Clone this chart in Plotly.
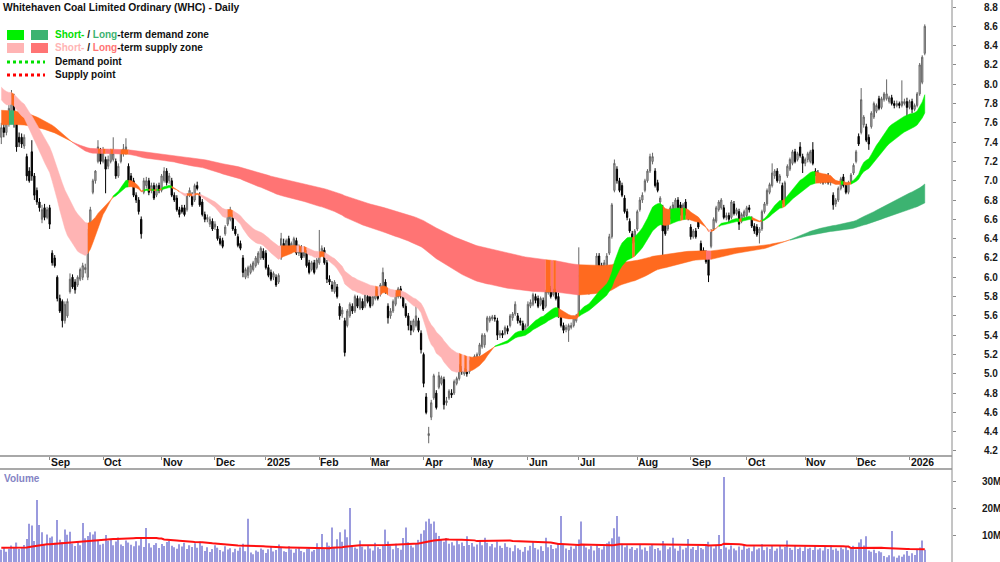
import plotly.graph_objects as go

# ---------------- data ----------------
open_prices = [
7.45,7.55,7.50,7.60,7.72,7.85,7.60,7.45,7.45,7.36,
7.25,7.10,7.30,7.05,6.90,6.78,6.60,6.72,6.62,6.72,
6.25,6.20,6.00,5.78,5.75,5.55,5.60,5.85,6.00,5.95,
5.92,5.98,6.00,6.08,6.00,6.50,6.88,7.00,7.20,7.30,
7.20,7.22,7.15,7.20,7.22,7.20,7.05,7.20,7.28,7.30,
7.15,7.05,7.00,6.85,6.80,6.60,6.88,6.95,7.00,6.90,
6.95,6.85,6.95,6.90,7.00,7.10,7.00,7.00,6.85,6.82,
6.70,6.72,6.72,6.70,6.85,6.85,6.80,6.95,6.85,6.78,
6.65,6.60,6.55,6.58,6.52,6.50,6.40,6.38,6.45,6.55,
6.60,6.62,6.50,6.42,6.35,6.20,6.00,6.02,6.05,6.08,
6.12,6.15,6.20,6.27,6.25,6.10,6.05,6.00,6.00,5.95,
6.20,6.35,6.30,6.40,6.28,6.30,6.38,6.25,6.30,6.22,
6.25,6.15,6.08,6.15,6.10,6.15,6.25,6.28,6.15,5.98,
5.92,5.85,5.90,5.70,5.62,5.55,5.50,5.60,5.70,5.65,
5.78,5.68,5.75,5.70,5.80,5.80,5.72,5.78,5.85,5.82,
5.90,5.95,5.70,5.60,5.65,5.72,5.80,5.88,5.80,5.70,
5.60,5.50,5.45,5.50,5.55,5.42,5.20,4.76,4.36,4.55,
4.75,4.80,4.86,4.90,4.94,4.70,4.75,4.80,4.80,4.90,
4.95,5.05,5.00,5.02,5.02,5.10,5.08,5.15,5.20,5.28,
5.30,5.45,5.55,5.57,5.58,5.55,5.40,5.42,5.42,5.47,
5.50,5.58,5.62,5.60,5.55,5.52,5.45,5.50,5.70,5.72,
5.80,5.78,5.72,5.76,5.70,5.84,5.88,5.82,5.85,5.80,
5.60,5.50,5.46,5.45,5.48,5.50,5.55,5.62,6.02,5.92,
5.95,5.85,5.90,6.02,6.10,6.22,6.12,6.08,6.12,6.25,
6.42,6.90,7.12,7.00,6.95,6.82,6.68,6.58,6.45,6.38,
6.50,6.70,6.80,6.90,7.00,7.10,7.20,7.10,6.98,6.78,
6.72,6.60,6.50,6.62,6.70,6.70,6.80,6.75,6.66,6.78,
6.66,6.52,6.42,6.48,6.58,6.35,6.28,6.25,6.20,6.32,
6.50,6.58,6.70,6.72,6.72,6.62,6.64,6.62,6.76,6.66,
6.68,6.58,6.63,6.64,6.72,6.60,6.53,6.52,6.46,6.50,
6.68,6.76,6.88,6.95,7.05,7.10,7.00,6.95,6.80,7.05,
7.12,7.18,7.30,7.22,7.35,7.25,7.18,7.22,7.20,7.32,
7.10,7.08,7.00,7.02,7.00,7.05,6.98,6.85,6.76,6.80,
6.92,7.04,6.95,6.88,6.99,7.08,7.20,7.46,7.50,7.58,
7.56,7.45,7.56,7.66,7.72,7.85,7.76,7.84,7.85,7.82,
7.86,7.80,7.78,7.80,7.78,7.80,7.82,7.76,7.82,7.74,
7.78,7.90,8.02,8.32]

high_prices = [
7.60,7.65,7.68,7.80,7.94,7.90,7.64,7.50,7.49,7.48,
7.28,7.14,7.42,7.08,6.93,6.82,6.75,6.76,6.73,6.75,
6.28,6.23,6.02,5.82,5.77,5.75,5.78,6.04,6.03,5.98,
6.02,6.10,6.15,6.14,6.50,6.73,7.02,7.11,7.42,7.34,
7.35,7.25,7.26,7.33,7.45,7.23,7.18,7.32,7.38,7.44,
7.18,7.08,7.03,6.88,6.83,6.63,7.03,7.04,7.03,6.98,
6.98,6.97,6.98,7.07,7.14,7.13,7.08,7.03,6.88,6.85,
6.73,6.75,6.75,6.87,6.93,6.88,6.97,6.99,6.88,6.81,
6.68,6.65,6.63,6.61,6.58,6.53,6.43,6.41,6.54,6.70,
6.73,6.65,6.53,6.45,6.38,6.23,6.10,6.12,6.14,6.17,
6.22,6.27,6.32,6.30,6.28,6.13,6.08,6.06,6.03,6.04,
6.46,6.40,6.40,6.43,6.37,6.42,6.41,6.34,6.33,6.32,
6.28,6.18,6.17,6.18,6.20,6.49,6.33,6.31,6.18,6.02,
5.96,5.97,5.93,5.73,5.69,5.58,5.67,5.74,5.73,5.82,
5.81,5.80,5.78,5.84,5.83,5.83,5.82,5.87,5.88,5.94,
6.10,5.98,5.73,5.68,5.77,5.84,5.90,5.91,5.83,5.73,
5.63,5.55,5.57,5.71,5.58,5.45,5.22,4.80,4.45,4.73,
5.00,4.83,5.02,4.98,4.97,4.76,4.84,4.84,4.94,4.97,
5.10,5.08,5.06,5.05,5.14,5.13,5.20,5.22,5.32,5.42,
5.42,5.60,5.60,5.61,5.61,5.58,5.45,5.45,5.50,5.50,
5.62,5.64,5.75,5.63,5.58,5.55,5.52,5.75,5.77,5.84,
5.83,5.81,5.80,5.79,5.87,5.94,5.91,5.88,5.88,5.84,
5.63,5.53,5.51,5.52,5.53,5.60,5.62,6.31,6.05,5.98,
5.97,5.90,6.07,6.10,6.25,6.25,6.15,6.18,6.25,6.45,
6.77,7.22,7.15,7.03,6.98,6.85,6.71,6.61,6.48,6.50,
6.70,6.83,6.88,7.02,7.12,7.28,7.29,7.13,7.01,6.84,
6.75,6.63,6.64,6.74,6.78,6.82,6.83,6.78,6.77,6.81,
6.69,6.55,6.50,6.51,6.61,6.38,6.31,6.28,6.23,6.50,
6.62,6.74,6.80,6.82,6.75,6.67,6.67,6.80,6.79,6.72,
6.71,6.67,6.70,6.74,6.75,6.63,6.56,6.55,6.52,6.70,
6.78,6.92,6.98,7.18,7.12,7.13,7.07,6.98,7.00,7.17,
7.24,7.32,7.33,7.30,7.40,7.28,7.24,7.30,7.32,7.40,
7.13,7.11,7.07,7.05,7.06,7.08,7.03,6.88,6.82,6.94,
7.04,7.07,6.98,7.00,7.08,7.18,7.32,7.49,7.96,7.68,
7.59,7.48,7.72,7.82,7.80,7.88,7.87,7.92,8.05,7.88,
7.89,7.83,7.83,7.82,8.04,7.85,7.86,7.84,7.85,7.80,
7.92,8.22,8.30,8.62]

low_prices = [
7.38,7.45,7.47,7.56,7.68,7.55,7.30,7.35,7.34,7.33,
7.00,6.98,7.00,6.80,6.75,6.68,6.56,6.59,6.60,6.50,
6.12,6.10,5.75,5.63,5.48,5.52,5.58,5.83,5.88,5.83,
5.90,5.96,5.97,6.04,5.97,6.48,6.86,6.97,7.18,7.17,
7.18,6.87,7.12,7.18,7.20,7.02,7.03,7.18,7.25,7.27,
6.98,6.95,6.83,6.77,6.65,6.40,6.86,6.92,6.85,6.87,
6.80,6.83,6.87,6.88,6.98,6.95,6.97,6.83,6.78,6.68,
6.62,6.66,6.63,6.68,6.83,6.73,6.78,6.90,6.73,6.63,
6.57,6.57,6.52,6.48,6.49,6.38,6.33,6.30,6.43,6.53,
6.58,6.48,6.43,6.31,6.28,6.00,5.98,5.99,6.03,6.06,
6.10,6.13,6.18,6.18,6.08,6.00,5.96,5.97,5.90,5.93,
6.18,6.28,6.27,6.26,6.25,6.28,6.23,6.22,6.18,6.20,
6.10,6.03,6.06,6.03,6.08,6.13,6.22,6.13,5.94,5.92,
5.85,5.83,5.78,5.56,5.58,5.18,5.48,5.58,5.62,5.63,
5.68,5.66,5.66,5.68,5.73,5.68,5.70,5.76,5.76,5.80,
5.88,5.83,5.52,5.57,5.63,5.70,5.78,5.78,5.68,5.58,
5.45,5.40,5.43,5.48,5.43,5.21,4.86,4.58,4.28,4.52,
4.73,4.63,4.84,4.88,4.63,4.67,4.73,4.75,4.78,4.88,
4.93,4.99,4.98,4.97,5.00,5.05,5.06,5.13,5.18,5.26,
5.27,5.43,5.53,5.55,5.54,5.35,5.37,5.37,5.40,5.41,
5.48,5.55,5.60,5.52,5.50,5.42,5.43,5.48,5.68,5.70,
5.73,5.68,5.70,5.65,5.68,5.82,5.78,5.80,5.76,5.58,
5.48,5.42,5.43,5.33,5.46,5.48,5.53,5.60,5.90,5.89,
5.83,5.82,5.88,6.00,6.08,6.10,6.04,6.06,6.10,6.23,
6.40,6.88,6.97,6.88,6.83,6.66,6.59,6.46,6.35,6.36,
6.48,6.68,6.77,6.88,6.98,7.08,7.17,6.93,6.88,6.76,
6.18,6.43,6.48,6.60,6.68,6.68,6.70,6.64,6.64,6.64,
6.59,6.39,6.40,6.40,6.50,6.25,6.22,6.14,5.95,6.30,
6.48,6.56,6.68,6.70,6.60,6.59,6.57,6.60,6.64,6.64,
6.49,6.56,6.61,6.62,6.67,6.51,6.45,6.42,6.35,6.48,
6.66,6.74,6.86,6.93,7.02,6.98,6.97,6.76,6.78,7.03,
7.10,7.16,7.18,7.20,7.24,7.08,7.15,7.19,7.18,7.16,
7.05,6.98,6.97,6.96,6.97,6.96,6.95,6.70,6.73,6.78,
6.90,6.93,6.86,6.86,6.97,7.06,7.18,7.36,7.48,7.55,
7.40,7.32,7.54,7.64,7.70,7.73,7.74,7.82,7.83,7.80,
7.78,7.75,7.76,7.75,7.76,7.78,7.56,7.74,7.70,7.72,
7.76,7.88,8.00,8.30]

close_prices = [
7.55,7.50,7.60,7.75,7.88,7.60,7.35,7.40,7.38,7.45,
7.05,7.00,7.05,6.85,6.78,6.72,6.70,6.62,6.70,6.55,
6.15,6.12,5.78,5.65,5.55,5.72,5.75,5.98,5.90,5.87,
6.00,6.08,6.12,6.10,6.45,6.70,7.00,7.10,7.35,7.20,
7.30,7.12,7.22,7.30,7.28,7.05,7.15,7.30,7.33,7.35,
7.00,6.98,6.85,6.80,6.68,6.45,7.00,7.00,6.88,6.95,
6.82,6.95,6.90,7.05,7.10,6.98,7.05,6.85,6.80,6.70,
6.65,6.68,6.65,6.85,6.90,6.75,6.95,6.92,6.75,6.65,
6.60,6.62,6.60,6.50,6.55,6.40,6.35,6.32,6.52,6.68,
6.70,6.50,6.45,6.33,6.30,6.05,6.08,6.10,6.12,6.15,
6.20,6.25,6.30,6.20,6.10,6.02,5.98,6.04,5.92,6.02,
6.40,6.30,6.38,6.28,6.35,6.40,6.25,6.32,6.20,6.30,
6.12,6.05,6.15,6.05,6.18,6.22,6.30,6.15,5.98,5.95,
5.88,5.95,5.80,5.60,5.66,5.22,5.65,5.72,5.65,5.80,
5.70,5.78,5.68,5.82,5.75,5.70,5.80,5.85,5.78,5.92,
6.05,5.85,5.58,5.65,5.75,5.82,5.88,5.80,5.70,5.60,
5.50,5.45,5.55,5.60,5.45,5.25,4.90,4.60,4.38,4.70,
4.98,4.65,4.98,4.96,4.68,4.72,4.82,4.78,4.92,4.95,
5.08,5.02,5.04,5.00,5.12,5.08,5.18,5.20,5.30,5.40,
5.40,5.58,5.58,5.59,5.57,5.40,5.42,5.40,5.48,5.44,
5.60,5.62,5.72,5.55,5.53,5.45,5.50,5.72,5.74,5.82,
5.76,5.70,5.78,5.67,5.85,5.88,5.80,5.85,5.78,5.60,
5.50,5.45,5.48,5.50,5.50,5.58,5.60,6.02,5.92,5.95,
5.85,5.88,6.05,6.08,6.22,6.12,6.08,6.15,6.22,6.42,
6.75,7.18,7.00,6.90,6.85,6.68,6.62,6.48,6.38,6.48,
6.68,6.80,6.85,7.00,7.10,7.25,7.25,6.95,6.90,6.82,
6.48,6.45,6.62,6.72,6.75,6.80,6.72,6.66,6.75,6.66,
6.62,6.42,6.48,6.42,6.52,6.27,6.25,6.16,6.02,6.48,
6.60,6.72,6.78,6.80,6.62,6.64,6.60,6.78,6.66,6.70,
6.55,6.65,6.68,6.72,6.70,6.53,6.48,6.44,6.50,6.68,
6.76,6.90,6.96,7.08,7.10,7.00,7.05,6.78,6.98,7.15,
7.22,7.30,7.20,7.28,7.26,7.18,7.22,7.28,7.30,7.18,
7.08,7.00,7.05,6.98,7.04,6.98,7.00,6.75,6.80,6.92,
7.02,6.95,6.88,6.98,7.06,7.16,7.30,7.38,7.84,7.66,
7.42,7.38,7.70,7.80,7.78,7.75,7.85,7.90,7.90,7.86,
7.80,7.78,7.80,7.78,7.82,7.82,7.76,7.82,7.74,7.78,
7.90,8.20,8.28,8.60]

volume_m = [
4.5,5.2,3.8,4.9,6.1,5.5,7.2,4.8,5.6,6.3,
8.5,14.2,13.5,7.8,23.0,13.7,11.0,6.5,10.2,9.0,
9.4,7.1,15.6,8.2,7.4,12.0,10.1,11.2,6.8,5.9,
7.5,6.2,14.4,8.8,9.6,11.0,10.2,11.3,7.9,6.4,
6.8,10.0,7.9,8.3,6.2,7.6,9.1,6.5,5.9,8.0,
7.2,6.4,5.8,7.7,6.1,8.6,5.6,12.6,6.9,5.4,
6.3,7.0,5.2,6.7,5.9,7.4,7.8,6.0,5.5,4.9,
6.6,5.7,7.1,4.8,6.2,5.6,6.9,5.3,7.6,6.0,
4.1,5.5,3.7,4.8,6.2,5.3,4.4,3.9,5.8,4.6,
5.1,3.6,4.9,4.2,5.4,6.8,4.0,16.0,3.5,2.9,
4.3,3.8,5.0,4.5,3.3,4.7,5.6,3.9,4.4,6.5,
5.2,4.0,3.7,5.8,4.6,3.4,4.9,5.5,4.1,3.6,
4.8,5.3,3.9,4.4,6.9,5.1,10.4,4.7,7.2,6.0,
12.8,5.6,8.4,11.0,7.5,12.0,9.2,20.0,6.3,5.4,
4.9,8.0,5.7,4.6,6.2,5.0,4.3,7.1,5.5,4.8,
6.4,12.0,7.6,5.9,4.7,6.8,5.2,4.5,8.9,12.8,
7.3,6.1,5.4,6.9,8.2,10.5,11.8,15.0,16.0,14.2,
15.0,10.8,9.6,8.4,7.5,8.9,6.8,7.3,6.1,8.0,
6.6,7.2,5.9,9.5,6.3,7.0,5.7,6.5,7.8,6.2,
9.0,7.1,5.8,6.7,5.4,7.6,6.0,5.2,6.9,5.6,
5.3,4.0,6.2,5.1,4.5,3.8,5.6,4.3,6.0,7.4,
5.2,4.6,5.8,4.1,9.0,5.5,6.3,4.8,5.1,6.7,
17.0,6.4,5.0,4.4,5.7,4.9,6.1,8.3,15.0,6.2,
5.4,4.7,5.9,4.3,6.5,5.2,4.6,5.8,6.9,7.6,
8.8,12.5,17.0,9.4,6.8,5.5,6.2,4.9,5.6,4.4,
5.1,6.3,4.6,5.4,4.1,5.8,6.6,4.8,5.2,4.3,
7.8,6.2,4.7,5.5,9.0,5.0,4.2,5.9,4.6,5.3,
8.5,4.9,5.6,4.4,6.0,5.2,4.7,6.4,7.5,5.8,
5.0,6.3,10.0,4.8,31.5,5.4,4.6,6.1,5.0,4.3,
5.7,4.5,6.2,4.9,5.3,4.0,5.8,4.6,5.1,6.6,
4.4,5.5,4.8,5.9,4.2,5.0,6.3,4.7,5.6,8.0,
5.2,4.5,6.0,4.8,5.4,4.1,5.7,4.9,5.3,4.4,
5.9,4.6,5.1,4.3,5.6,4.8,6.2,4.5,5.0,4.2,
5.4,4.7,5.8,4.4,5.1,6.0,4.6,7.2,8.4,6.1,
9.5,4.3,3.8,4.5,3.3,4.0,3.6,2.2,1.8,2.5,
11.5,2.0,1.6,2.4,1.9,2.8,4.1,2.3,3.2,2.6,
4.8,5.4,8.0,4.5]

month_labels = ["Sep", "Oct", "Nov", "Dec", "2025", "Feb", "Mar", "Apr", "May",
                "Jun", "Jul", "Aug", "Sep", "Oct", "Nov", "Dec", "2026"]
month_index = [20, 41, 64, 85, 105, 126, 146, 167, 186, 208, 228, 251, 272, 294,
               317, 337, 358]

price_ticks = [4.2, 4.4, 4.6, 4.8, 5.0, 5.2, 5.4, 5.6, 5.8, 6.0, 6.2, 6.4,
               6.6, 6.8, 7.0, 7.2, 7.4, 7.6, 7.8, 8.0, 8.2, 8.4, 8.6, 8.8]
volume_ticks = [10, 20, 30]
volume_tick_text = ["10M", "20M", "30M"]

# zone settings (EMA periods) and the zone levels at the first bar
short_fast_period, short_slow_period = 20, 35
long_fast_period, long_slow_period = 150, 250
short_fast_start, short_slow_start = 7.84, 7.97
long_fast_start, long_slow_start = 7.73, 7.58
volume_avg_period = 50
volume_avg_start = 5.3

# ---------------- helpers ----------------
W, H = 1000, 562
PLOT_R = 952
FONT = "Liberation Sans, Arial, sans-serif"

def px(x):
    return x / PLOT_R

def py(y):
    return 1 - y / H

def ema(values, period, start):
    a = 2.0 / (period + 1)
    out = [start]
    for v in values[1:]:
        out.append(out[-1] + a * (v - out[-1]))
    return out

def seeded_sma(values, period, start):
    out = []
    for i in range(len(values)):
        lo = max(0, i - period + 1)
        window = values[lo:i + 1]
        missing = period - len(window)
        out.append((sum(window) + missing * start) / period)
    return out

n = len(close_prices)
xs = list(range(n))

def zone_traces(fast, slow, colors):
    states = []
    for i in range(n):
        rising = fast[i] > fast[i - 1] if i > 0 else fast[1] > fast[0]
        if fast[i] >= slow[i] and rising:
            states.append("demand")
        elif fast[i] < slow[i] and not rising:
            states.append("supply")
        else:
            states.append("mixed")
    runs = []
    s = 0
    for i in range(1, n + 1):
        if i == n or states[i] != states[s]:
            runs.append((states[s], s, i - 1))
            s = i
    traces = []
    for st, a, b in runs:
        e = min(b + 1, n - 1)
        idx = list(range(a, e + 1))
        if len(idx) < 2 and a > 0:
            idx = [a - 1] + idx
        tx = idx + idx[::-1]
        ty = [fast[i] for i in idx] + [slow[i] for i in idx[::-1]]
        traces.append(go.Scatter(x=tx, y=ty, fill="toself", mode="lines",
                                 fillcolor=colors[st],
                                 line=dict(width=0.5, color=colors[st]),
                                 hoverinfo="skip", showlegend=False,
                                 xaxis="x", yaxis="y"))
    return traces

short_fast = ema(close_prices, short_fast_period, short_fast_start)
short_slow = ema(close_prices, short_slow_period, short_slow_start)
long_fast = ema(close_prices, long_fast_period, long_fast_start)
long_slow = ema(close_prices, long_slow_period, long_slow_start)
vol_avg = seeded_sma(volume_m, volume_avg_period, volume_avg_start)

ORANGE = "#ff6a1f"
short_colors = {"demand": "#00f000", "supply": "#ffb4b4", "mixed": ORANGE}
long_colors = {"demand": "#3cb371", "supply": "#ff7474", "mixed": ORANGE}

fig = go.Figure()
for t in zone_traces(long_fast, long_slow, long_colors):
    fig.add_trace(t)
for t in zone_traces(short_fast, short_slow, short_colors):
    fig.add_trace(t)

fig.add_trace(go.Candlestick(
    x=xs, open=open_prices, high=high_prices, low=low_prices, close=close_prices,
    increasing=dict(line=dict(color="#666666", width=1), fillcolor="#c4c4c4"),
    decreasing=dict(line=dict(color="#000000", width=1), fillcolor="#000000"),
    whiskerwidth=0, showlegend=False, hoverinfo="skip", xaxis="x", yaxis="y"))

fig.add_trace(go.Bar(x=xs, y=volume_m, width=0.45,
                     marker=dict(color="#9a9ade", line=dict(width=0)),
                     showlegend=False, hoverinfo="skip", xaxis="x2", yaxis="y2"))
fig.add_trace(go.Scatter(x=xs, y=vol_avg, mode="lines",
                         line=dict(color="#ff1010", width=2),
                         showlegend=False, hoverinfo="skip", xaxis="x2", yaxis="y2"))

x_range = [-0.51, -0.51 + PLOT_R / 2.544]
tick_pos = [m - 1 for m in month_index]

axis_font = dict(family=FONT, size=10, color="#1a1a1a", weight="bold")
fig.update_layout(
    width=W, height=H, margin=dict(l=0, r=W - PLOT_R, t=0, b=0, autoexpand=False),
    paper_bgcolor="white", plot_bgcolor="white", showlegend=False,
    font=dict(family=FONT),
    xaxis=dict(domain=[0, 1], range=x_range, anchor="y", showgrid=False,
               zeroline=False, showline=True, linecolor="#a8a8a8", linewidth=2,
               tickvals=tick_pos, showticklabels=False, ticks="outside", ticklen=3,
               tickcolor="#8a8a8a", tickwidth=1, rangeslider=dict(visible=False),
               fixedrange=True, automargin=False),
    yaxis=dict(domain=[py(455), 1], range=[8.8 - 448 / 96.52, 8.8 + 7 / 96.52],
               side="right", anchor="x", showgrid=False, zeroline=False,
               tickvals=price_ticks, ticktext=["%.1f" % v for v in price_ticks],
               ticks="outside", ticklen=3, tickcolor="#8a8a8a", automargin=False,
               showline=False, tickfont=axis_font, ticklabelstandoff=26),
    xaxis2=dict(domain=[0, 1], range=x_range, anchor="y2", visible=False),
    yaxis2=dict(domain=[0, py(469)], range=[0, 93 / 2.7], side="right", anchor="x2",
                showgrid=False, zeroline=False, tickvals=volume_ticks,
                ticktext=volume_tick_text, ticks="outside", ticklen=3,
                tickcolor="#8a8a8a", showline=False, tickfont=axis_font,
                automargin=False, ticklabelstandoff=24),
)

shapes = []
# right axis line and pane separator
shapes.append(dict(type="line", xref="paper", yref="paper", x0=1, x1=1, y0=0, y1=1,
                   line=dict(color="#8a8a8a", width=1)))
shapes.append(dict(type="line", xref="paper", yref="paper", x0=0, x1=1,
                   y0=py(469), y1=py(469), line=dict(color="#8c8c8c", width=1.5)))
# legend swatches
for (x0, x1, y0, y1, c) in [(7, 24, 30, 40, "#00f000"), (31, 48, 30, 40, "#3cb371"),
                            (7, 24, 43, 53, "#ffb4b4"), (31, 48, 43, 53, "#ff7474")]:
    shapes.append(dict(type="rect", xref="paper", yref="paper", x0=px(x0), x1=px(x1),
                       y0=py(y1), y1=py(y0), fillcolor=c, line=dict(width=0)))
shapes.append(dict(type="line", xref="paper", yref="paper", x0=px(7), x1=px(45),
                   y0=py(62), y1=py(62), line=dict(color="#00e000", width=3, dash="dot")))
shapes.append(dict(type="line", xref="paper", yref="paper", x0=px(7), x1=px(45),
                   y0=py(75), y1=py(75), line=dict(color="#ff0000", width=3, dash="dot")))
fig.update_layout(shapes=shapes)

ann = []
def text(x, y, s, size=10, color="#111111", anchor="left"):
    ann.append(dict(xref="paper", yref="paper", x=px(x), y=py(y), text=s,
                    showarrow=False, xanchor=anchor, yanchor="middle",
                    font=dict(family=FONT, size=size, color=color)))

text(1, 7, "<b>Whitehaven Coal Limited Ordinary (WHC) - Daily</b>", size=10.3)
text(53, 35, "<b><span style='color:#00e000'>Short-</span> / "
             "<span style='color:#3cb371'>Long</span>-term demand zone</b>")
text(53, 48, "<b><span style='color:#ffb4b4'>Short-</span> / "
             "<span style='color:#ff7474'>Long</span>-term supply zone</b>")
text(53, 62, "<b>Demand point</b>")
text(53, 75, "<b>Supply point</b>")
text(2, 478, "<b>Volume</b>", color="#8484c4")

for lab, m in zip(month_labels, month_index):
    ann.append(dict(xref="x", yref="paper", x=m - 1, y=py(462.5), text="<b>%s</b>" % lab,
                    showarrow=False, xanchor="left", yanchor="middle", xshift=-1,
                    font=dict(family=FONT, size=10.4, color="#111111")))
fig.update_layout(annotations=ann)

fig.write_html("out.html")
